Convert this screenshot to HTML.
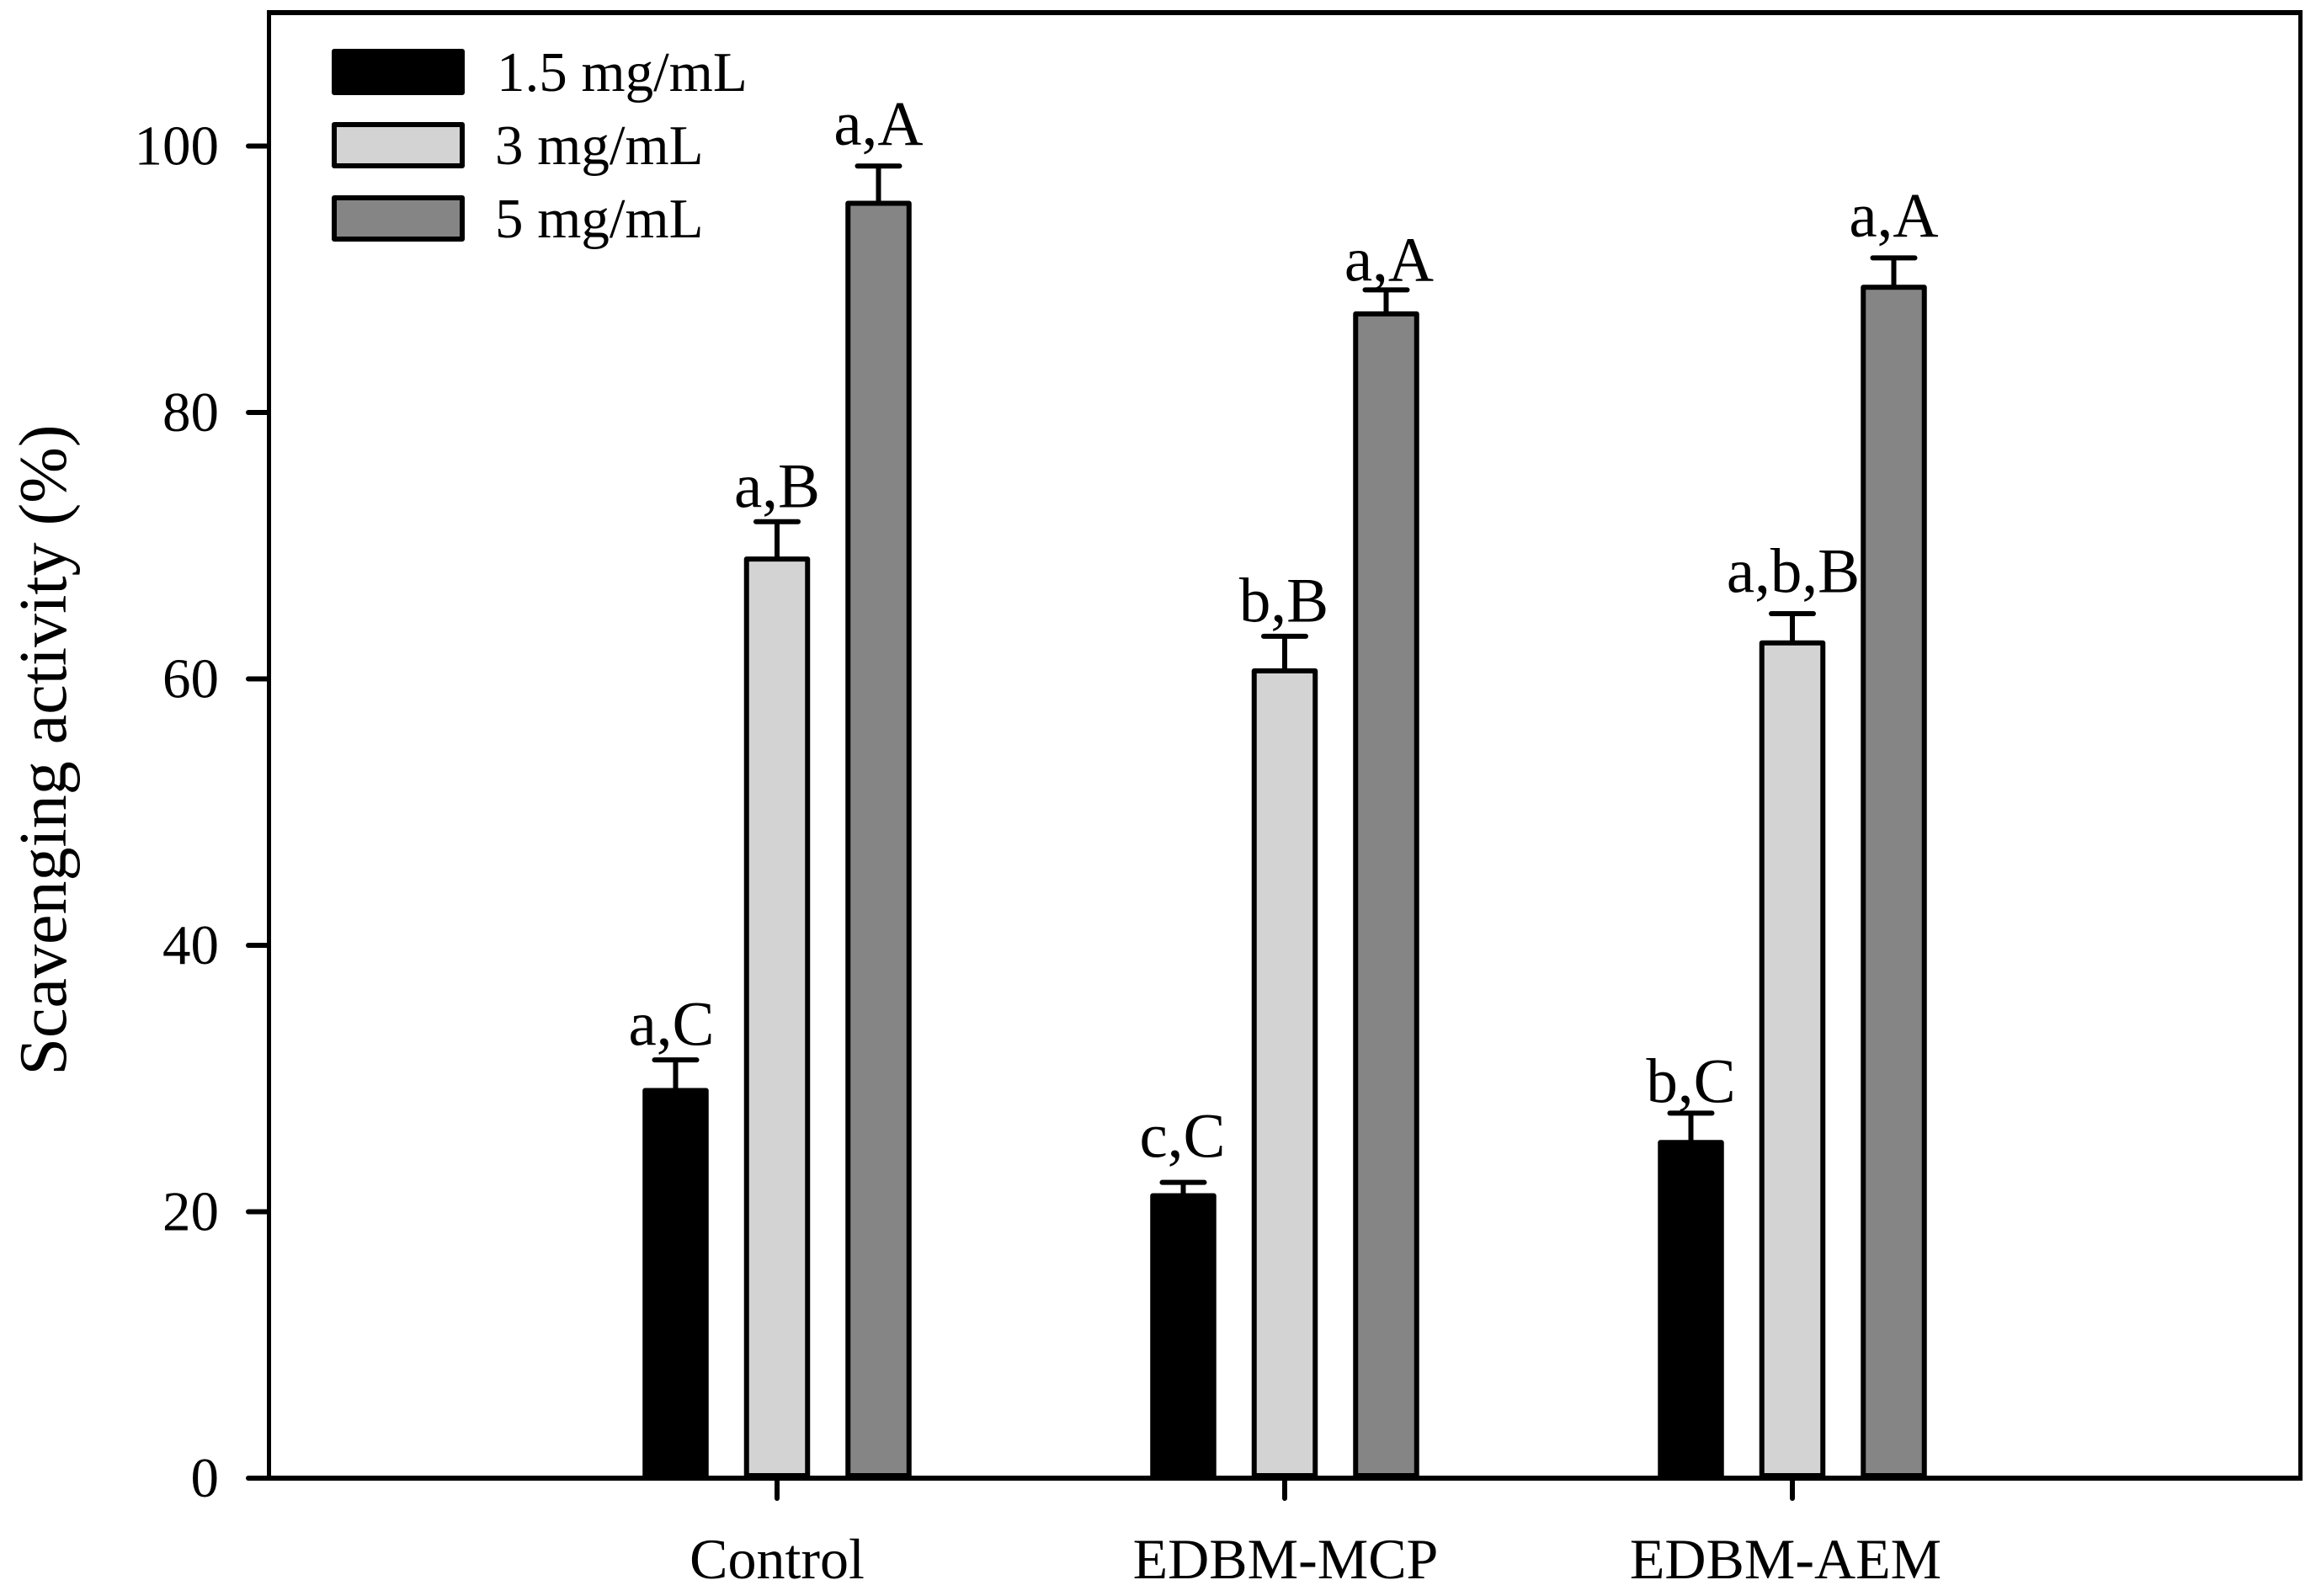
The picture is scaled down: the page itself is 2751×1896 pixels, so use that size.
<!DOCTYPE html>
<html lang="en">
<head>
<meta charset="utf-8">
<title>Scavenging activity chart</title>
<style>
  html, body { margin: 0; padding: 0; background: #fff; }
  body { width: 2751px; height: 1896px; overflow: hidden; }
  svg { display: block; }
  text { font-family: "Liberation Serif", "Times New Roman", serif; fill: #000; }
  .tick-label { font-size: 68px; }
  .y-tick-label { font-size: 67px; }
  .legend-label { font-size: 67px; }
  .annotation { font-size: 75px; text-anchor: middle; }
  .axis-title { font-size: 80px; text-anchor: middle; }
</style>
</head>
<body>
<svg id="chart" xmlns="http://www.w3.org/2000/svg" width="2751" height="1896" viewBox="0 0 2751 1896">
  <rect x="0" y="0" width="2751" height="1896" fill="#ffffff"/>
  <g id="bars"></g>
  <g id="frame">
    <line x1="317" y1="15" x2="2735" y2="15" stroke="#000" stroke-width="6"/>
    <line x1="319.5" y1="12" x2="319.5" y2="1759" stroke="#000" stroke-width="5"/>
    <line x1="2732.5" y1="12" x2="2732.5" y2="1759" stroke="#000" stroke-width="5"/>
    <line x1="317" y1="1756" x2="2735" y2="1756" stroke="#000" stroke-width="6"/>
  </g>
  <g id="y-axis"></g>
  <g id="x-axis"></g>
  <text class="axis-title" transform="translate(78 891) rotate(-90)">Scavenging activity (%)</text>
  <g id="legend">
    <g>
      <rect x="397" y="61" width="152" height="49" fill="#000" stroke="#000" stroke-width="6" stroke-linejoin="round"/>
      <text class="legend-label" x="590" y="108">1.5 mg/mL</text>
    </g>
    <g>
      <rect x="397" y="148" width="152" height="49" fill="#d3d3d3" stroke="#000" stroke-width="6" stroke-linejoin="round"/>
      <text class="legend-label" x="588" y="195">3 mg/mL</text>
    </g>
    <g>
      <rect x="397" y="235" width="152" height="49" fill="#858585" stroke="#000" stroke-width="6" stroke-linejoin="round"/>
      <text class="legend-label" x="588" y="282">5 mg/mL</text>
    </g>
  </g>
</svg>
<script>
// Chart data
const categories = ['Control', 'EDBM-MCP', 'EDBM-AEM'];
const seriesNames = ['1.5 mg/mL', '3 mg/mL', '5 mg/mL'];
const yTickLabels = [0, 20, 40, 60, 80, 100];
const means15 = [29.1, 21.2, 25.2];
const means3 = [69.0, 60.6, 62.7];
const means5 = [95.7, 87.4, 89.4];
const upper15 = [31.4, 22.2, 27.4];
const upper3 = [71.8, 63.2, 64.9];
const upper5 = [98.5, 89.2, 91.6];
const letters15 = ['a,C', 'c,C', 'b,C'];
const letters3 = ['a,B', 'b,B', 'a,b,B'];
const letters5 = ['a,A', 'a,A', 'a,A'];
// Height of each letter annotation's baseline, in y-axis units
const letterLevel15 = [32.5, 24.1, 28.2];
const letterLevel3 = [72.9, 64.3, 66.5];
const letterLevel5 = [100.1, 89.9, 93.2];

const NS = 'http://www.w3.org/2000/svg';
const Y0 = 1756, UNIT = 15.825;
const X0 = 923, GROUP_STEP = 603, BAR_STEP = 120.5, BAR_W = 72.5, CAP_W = 50;
const fills = ['#000000', '#d3d3d3', '#858585'];
const allMeans = [means15, means3, means5];
const allUpper = [upper15, upper3, upper5];
const allLetters = [letters15, letters3, letters5];
const allLevels = [letterLevel15, letterLevel3, letterLevel5];
// Hand-placed label nudges seen in the figure (layout only, not data)
const categoryLabelNudge = [0, 1, -8];
const annotationNudge = [[-5, -1, 0], [0, -1, 1], [0, 3.5, 0]];

function yScale(v) { return Y0 - v * UNIT; }
function xGroup(i) { return X0 + i * GROUP_STEP; }
function xBar(i, s) { return xGroup(i) + (s - 1) * BAR_STEP; }
function slug(t) { return String(t).toLowerCase().replace(/[^a-z0-9]+/g, '-'); }
function make(tag, attrs, parent) {
  const el = document.createElementNS(NS, tag);
  for (const k in attrs) el.setAttribute(k, attrs[k]);
  parent.appendChild(el);
  return el;
}

const barsG = document.getElementById('bars');
const yG = document.getElementById('y-axis');
const xG = document.getElementById('x-axis');

yTickLabels.forEach(function (v) {
  const y = yScale(v);
  const tick = make('line', { x1: 295, y1: y, x2: 318, y2: y, stroke: '#000', 'stroke-width': 6, 'stroke-linecap': 'round' }, yG);
  
  
  const label = make('text', { x: 260, y: y + 22, 'text-anchor': 'end', class: 'y-tick-label' }, yG);
  label.textContent = String(v);
  
  
});

categories.forEach(function (cat, i) {
  const x = xGroup(i);
  const tick = make('line', { x1: x, y1: 1759, x2: x, y2: 1780, stroke: '#000', 'stroke-width': 6, 'stroke-linecap': 'round' }, xG);
  
  
  const label = make('text', { x: x + categoryLabelNudge[i], y: 1875, 'text-anchor': 'middle', class: 'tick-label' }, xG);
  label.textContent = cat;
  
  

  seriesNames.forEach(function (name, s) {
    const cx = xBar(i, s);
    const top = yScale(allMeans[s][i]);
    const cap = yScale(allUpper[s][i]);
    const key = slug(cat) + '-' + slug(name);

    const stem = make('line', { x1: cx, y1: top, x2: cx, y2: cap, stroke: '#000', 'stroke-width': 6 }, barsG);
    
    

    const capLine = make('line', { x1: cx - CAP_W / 2, y1: cap, x2: cx + CAP_W / 2, y2: cap, stroke: '#000', 'stroke-width': 6, 'stroke-linecap': 'round' }, barsG);
    
    

    const bar = make('rect', { x: cx - BAR_W / 2, y: top, width: BAR_W, height: Y0 - 3 - top, fill: fills[s], stroke: '#000', 'stroke-width': 6, 'stroke-linejoin': 'round' }, barsG);
    
    

    const note = make('text', { x: cx + annotationNudge[s][i], y: yScale(allLevels[s][i]), class: 'annotation' }, barsG);
    note.textContent = allLetters[s][i];
    
    
  });
});
</script>
</body>
</html>
